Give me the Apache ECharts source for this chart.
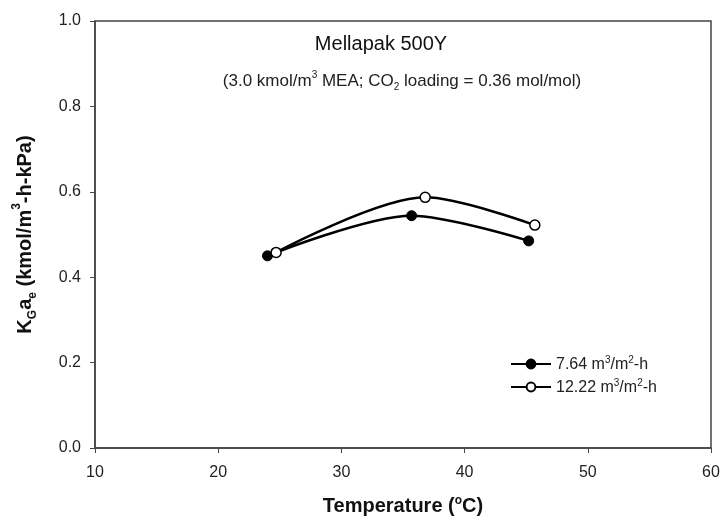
<!DOCTYPE html>
<html>
<head>
<meta charset="utf-8">
<script src="https://cdn.jsdelivr.net/npm/echarts@6/dist/echarts.min.js"></script>
<style>html,body{margin:0;padding:0;background:#fff;}#c{width:720px;height:521px;}</style>
</head>
<body>
<div id="c"></div>
<script>
// Data
const temp764 = [24.0, 35.7, 45.2];
const kga764 = [0.450, 0.544, 0.485];
const temp1222 = [24.7, 36.8, 45.7];
const kga1222 = [0.458, 0.587, 0.522];
const seriesNames = ['7.64 m³/m²-h', '12.22 m³/m²-h'];
const xTicks = [10, 20, 30, 40, 50, 60];
const yTicks = [0.0, 0.2, 0.4, 0.6, 0.8, 1.0];

const FONT = '"Liberation Sans", Arial, sans-serif';
const chart = echarts.init(document.getElementById('c'), null, {renderer: 'canvas'});

function pairs(xs, ys) { return xs.map((x, i) => [x, ys[i]]); }

const legendRich = {
  n: {fontSize: 16, color: '#222', fontFamily: FONT, lineHeight: 18, verticalAlign: 'bottom'},
  s: {fontSize: 10, color: '#222', fontFamily: FONT, lineHeight: 18, verticalAlign: 'top'}
};

chart.setOption({
  animation: false,
  backgroundColor: '#fff',
  title: [
    {text: 'Mellapak 500Y', left: 376, top: 29, textAlign: 'center',
     textStyle: {fontSize: 20, fontWeight: 'normal', color: '#111', fontFamily: FONT}},
    {text: '{n|(3.0 kmol/m}{s|3}{n| MEA; CO}{b|2}{n| loading = 0.36 mol/mol)}',
     left: 397, top: 65, textAlign: 'center',
     textStyle: {fontWeight: 'normal', rich: {
       n: {fontSize: 17, fontWeight: 'normal', color: '#222', fontFamily: FONT, lineHeight: 22, verticalAlign: 'middle'},
       s: {fontSize: 10, fontWeight: 'normal', color: '#222', fontFamily: FONT, lineHeight: 22, verticalAlign: 'top'},
       b: {fontSize: 10, fontWeight: 'normal', color: '#222', fontFamily: FONT, lineHeight: 22, verticalAlign: 'bottom'}
     }}}
  ],
  grid: {left: 95, right: 9, top: 21, bottom: 73, outerBoundsMode: 'none', containLabel: false,
    show: true, borderColor: '#444', borderWidth: 1.5, backgroundColor: 'transparent'},
  legend: {
    left: 505, top: 350, orient: 'vertical', itemWidth: 40, itemHeight: 11, itemGap: 5,
    data: seriesNames,
    formatter: function (name) {
      return name === seriesNames[0]
        ? '{n|7.64 m}{s|3}{n|/m}{s|2}{n|-h}'
        : '{n|12.22 m}{s|3}{n|/m}{s|2}{n|-h}';
    },
    textStyle: {rich: legendRich, padding: [0, 0, 0, 0]}
  },
  xAxis: {
    type: 'value', min: 10, max: 60, interval: 10,
    name: 'Temperature ({u|o}C)', nameLocation: 'middle', nameGap: 47,
    nameTextStyle: {fontSize: 20, fontWeight: 'bold', color: '#111', fontFamily: FONT,
      rich: {u: {fontSize: 12, fontWeight: 'bold', color: '#111', fontFamily: FONT, verticalAlign: 'top', lineHeight: 22}}},
    axisLine: {show: true, lineStyle: {color: '#444', width: 1.5}},
    axisTick: {show: true, inside: false, length: 5, lineStyle: {color: '#444', width: 1}},
    axisLabel: {fontSize: 16, color: '#222', fontFamily: FONT, margin: 17},
    splitLine: {show: false}
  },
  yAxis: {
    type: 'value', min: 0, max: 1.0, interval: 0.2,
    name: '{n|K}{b|G}{n|a}{b|e}{n| (kmol/m}{s|3}{n|-h-kPa)}', nameLocation: 'middle', nameGap: 56, nameRotate: 90,
    nameTextStyle: {rich: {
      n: {fontSize: 20, fontWeight: 'bold', color: '#111', fontFamily: FONT, lineHeight: 28, verticalAlign: 'middle'},
      b: {fontSize: 12, fontWeight: 'bold', color: '#111', fontFamily: FONT, lineHeight: 28, verticalAlign: 'bottom'},
      s: {fontSize: 12, fontWeight: 'bold', color: '#111', fontFamily: FONT, lineHeight: 28, verticalAlign: 'top'}
    }},
    axisLine: {show: true, lineStyle: {color: '#444', width: 1.5}},
    axisTick: {show: true, inside: false, length: 5, lineStyle: {color: '#444', width: 1}},
    axisLabel: {fontSize: 16, color: '#222', fontFamily: FONT, margin: 14,
      formatter: v => v.toFixed(1)},
    splitLine: {show: false}
  },
  series: [
    {name: seriesNames[0], type: 'line', smooth: 0.3, data: pairs(temp764, kga764),
     symbol: 'circle', symbolSize: 10,
     itemStyle: {color: '#000', borderColor: '#000', borderWidth: 1},
     lineStyle: {color: '#000', width: 2.5}, z: 3},
    {name: seriesNames[1], type: 'line', smooth: 0.3, data: pairs(temp1222, kga1222),
     symbol: 'circle', symbolSize: 10,
     itemStyle: {color: '#fff', borderColor: '#000', borderWidth: 1.5},
     lineStyle: {color: '#000', width: 2.5}, z: 4}
  ]
});
</script>
</body>
</html>
